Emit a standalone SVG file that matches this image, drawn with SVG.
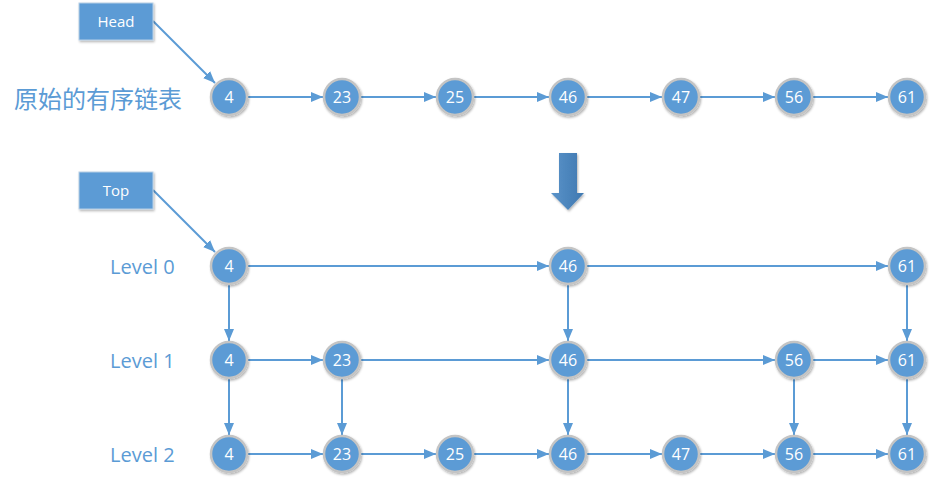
<svg xmlns="http://www.w3.org/2000/svg" width="936" height="483" viewBox="0 0 936 483">
<defs>
<marker id="ah" viewBox="0 0 12 10" refX="12" refY="5" markerWidth="12" markerHeight="10" markerUnits="userSpaceOnUse" orient="auto">
<path d="M0,0 L12,5 L0,10 Z" fill="#5b9bd5"/>
</marker>
<filter id="sh" x="-30%" y="-30%" width="160%" height="160%">
<feDropShadow dx="1" dy="1.5" stdDeviation="1.2" flood-color="#000" flood-opacity="0.3"/>
</filter>
<linearGradient id="dg" x1="0" y1="0" x2="1" y2="0">
<stop offset="0" stop-color="#5a93c9"/>
<stop offset="1" stop-color="#3f78b0"/>
</linearGradient>
</defs>
<style>
.n circle{fill:#5b9bd5;stroke:#c4c4c4;stroke-width:2.5;filter:url(#sh)}
.n text{fill:#fff;font-family:"Open Sans","Liberation Sans",sans-serif;font-size:16px;text-anchor:middle;dominant-baseline:central}
.b rect{fill:#5b9bd5;stroke:#b8cfe6;stroke-width:1;filter:url(#sh)}
.b text{fill:#fff;font-family:"Open Sans","Liberation Sans",sans-serif;font-size:15px;text-anchor:middle;dominant-baseline:central}
.c line{stroke:#5b9bd5;stroke-width:2;marker-end:url(#ah)}
.lbl{fill:#5b9bd5;font-family:"Open Sans","Liberation Sans",sans-serif;font-size:20px;dominant-baseline:central}
.cjk{fill:#5b9bd5;font-family:"Noto Sans CJK SC",sans-serif;font-size:24px;dominant-baseline:central}
</style>
<rect width="936" height="483" fill="#fff"/>
<g id="connectors" class="c">
<line x1="153" y1="21" x2="215" y2="83"/>
<line x1="153" y1="190" x2="215" y2="252"/>
<line x1="248" y1="97" x2="323" y2="97"/>
<line x1="361" y1="97" x2="436" y2="97"/>
<line x1="474" y1="97" x2="549" y2="97"/>
<line x1="587" y1="97" x2="662" y2="97"/>
<line x1="700" y1="97" x2="775" y2="97"/>
<line x1="813" y1="97" x2="888" y2="97"/>
<line x1="248" y1="266" x2="549" y2="266"/>
<line x1="587" y1="266" x2="888" y2="266"/>
<line x1="248" y1="360" x2="323" y2="360"/>
<line x1="361" y1="360" x2="549" y2="360"/>
<line x1="587" y1="360" x2="775" y2="360"/>
<line x1="813" y1="360" x2="888" y2="360"/>
<line x1="248" y1="454" x2="323" y2="454"/>
<line x1="361" y1="454" x2="436" y2="454"/>
<line x1="474" y1="454" x2="549" y2="454"/>
<line x1="587" y1="454" x2="662" y2="454"/>
<line x1="700" y1="454" x2="775" y2="454"/>
<line x1="813" y1="454" x2="888" y2="454"/>
<line x1="229" y1="285" x2="229" y2="341"/>
<line x1="568" y1="285" x2="568" y2="341"/>
<line x1="907" y1="285" x2="907" y2="341"/>
<line x1="229" y1="379" x2="229" y2="435"/>
<line x1="342" y1="379" x2="342" y2="435"/>
<line x1="568" y1="379" x2="568" y2="435"/>
<line x1="794" y1="379" x2="794" y2="435"/>
<line x1="907" y1="379" x2="907" y2="435"/>
</g>
<g id="head" class="b"><rect x="79" y="3" width="74" height="37"/><text x="116" y="21">Head</text></g>
<g id="top" class="b"><rect x="79" y="172" width="74" height="37"/><text x="116" y="190">Top</text></g>
<text class="cjk" x="14" y="97">原始的有序链表</text>
<text class="lbl" x="110" y="266">Level 0</text>
<text class="lbl" x="110" y="360">Level 1</text>
<text class="lbl" x="110" y="454">Level 2</text>
<g id="down-arrow"><path d="M559,153 H577 V193 H584 L568,210 L551,193 H559 Z" fill="url(#dg)" filter="url(#sh)"/></g>
<g id="o4" class="n"><circle cx="229" cy="97" r="18"/><text x="229" y="97">4</text></g>
<g id="o23" class="n"><circle cx="342" cy="97" r="18"/><text x="342" y="97">23</text></g>
<g id="o25" class="n"><circle cx="455" cy="97" r="18"/><text x="455" y="97">25</text></g>
<g id="o46" class="n"><circle cx="568" cy="97" r="18"/><text x="568" y="97">46</text></g>
<g id="o47" class="n"><circle cx="681" cy="97" r="18"/><text x="681" y="97">47</text></g>
<g id="o56" class="n"><circle cx="794" cy="97" r="18"/><text x="794" y="97">56</text></g>
<g id="o61" class="n"><circle cx="907" cy="97" r="18"/><text x="907" y="97">61</text></g>
<g id="l0-4" class="n"><circle cx="229" cy="266" r="18"/><text x="229" y="266">4</text></g>
<g id="l0-46" class="n"><circle cx="568" cy="266" r="18"/><text x="568" y="266">46</text></g>
<g id="l0-61" class="n"><circle cx="907" cy="266" r="18"/><text x="907" y="266">61</text></g>
<g id="l1-4" class="n"><circle cx="229" cy="360" r="18"/><text x="229" y="360">4</text></g>
<g id="l1-23" class="n"><circle cx="342" cy="360" r="18"/><text x="342" y="360">23</text></g>
<g id="l1-46" class="n"><circle cx="568" cy="360" r="18"/><text x="568" y="360">46</text></g>
<g id="l1-56" class="n"><circle cx="794" cy="360" r="18"/><text x="794" y="360">56</text></g>
<g id="l1-61" class="n"><circle cx="907" cy="360" r="18"/><text x="907" y="360">61</text></g>
<g id="l2-4" class="n"><circle cx="229" cy="454" r="18"/><text x="229" y="454">4</text></g>
<g id="l2-23" class="n"><circle cx="342" cy="454" r="18"/><text x="342" y="454">23</text></g>
<g id="l2-25" class="n"><circle cx="455" cy="454" r="18"/><text x="455" y="454">25</text></g>
<g id="l2-46" class="n"><circle cx="568" cy="454" r="18"/><text x="568" y="454">46</text></g>
<g id="l2-47" class="n"><circle cx="681" cy="454" r="18"/><text x="681" y="454">47</text></g>
<g id="l2-56" class="n"><circle cx="794" cy="454" r="18"/><text x="794" y="454">56</text></g>
<g id="l2-61" class="n"><circle cx="907" cy="454" r="18"/><text x="907" y="454">61</text></g>
</svg>
